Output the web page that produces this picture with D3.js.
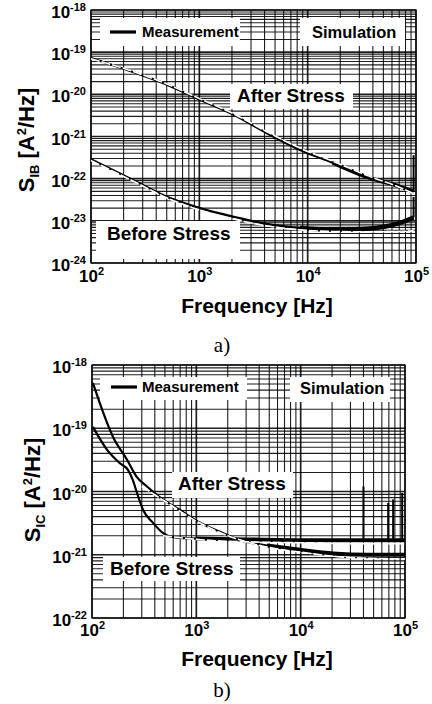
<!DOCTYPE html>
<html><head><meta charset="utf-8">
<script src="https://cdn.jsdelivr.net/npm/d3@7"></script>
<style>body{margin:0;background:#fff}svg{display:block}</style>
</head><body>
<svg id="c" width="432" height="704"></svg>
<script>
// ---------- DATA ----------
const xTickVals = [1e2, 1e3, 1e4, 1e5];
const yTickValsA = [1e-24, 1e-23, 1e-22, 1e-21, 1e-20, 1e-19, 1e-18];
const yTickValsB = [1e-22, 1e-21, 1e-20, 1e-19, 1e-18];

// Panel a) S_IB
const freqA = [100, 244, 503, 1013, 2050, 4200, 8500, 17000, 35000, 71000, 95000];
const measA_after  = [7.3e-20, 3.4e-20, 1.7e-20, 7.4e-21, 3.3e-21, 1.2e-21, 4.8e-22, 2.4e-22, 1.1e-22, 6.5e-23, 4.9e-23];
const simA_after   = [7.0e-20, 3.5e-20, 1.75e-20, 7.8e-21, 3.5e-21, 1.3e-21, 5.3e-22, 2.6e-22, 1.2e-22, 6.2e-23, 4.4e-23];
const measA_before = [2.9e-22, 9.3e-23, 3.7e-23, 2.0e-23, 1.26e-23, 8.5e-24, 6.8e-24, 6.2e-24, 6.5e-24, 8.9e-24, 1.2e-23];
const simA_before  = [2.7e-22, 8.8e-23, 3.5e-23, 1.8e-23, 1.1e-23, 7.6e-24, 6.1e-24, 5.6e-24, 5.5e-24, 5.6e-24, 5.8e-24];
const spikeA_freq = [95000, 95000];
const spikeA_base = [4.9e-23, 1.2e-23];
const spikeA_top  = [3.6e-22, 3.7e-23];

// Panel b) S_IC
const freqB1 = [102, 159, 216, 268, 337, 448, 698, 1086, 1687, 2620, 4750, 9850, 20400, 43000, 100000];
const measB1 = [5.2e-19, 7.3e-20, 3.2e-20, 1.7e-20, 1.2e-20, 8.1e-21, 5.1e-21, 3.2e-21, 2.3e-21, 1.7e-21, 1.4e-21, 1.2e-21, 1.05e-21, 1.0e-21, 1.0e-21];
const freqB2 = [102, 139, 185, 221, 247, 270, 309, 384, 480, 600, 1000, 3000, 10000, 30000, 100000];
const measB2 = [1.05e-19, 4.6e-20, 2.8e-20, 2.2e-20, 1.5e-20, 9.5e-21, 5.1e-21, 3.2e-21, 2.2e-21, 1.9e-21, 1.8e-21, 1.75e-21, 1.7e-21, 1.7e-21, 1.7e-21];
const simB1_freq = [300, 500, 1000, 2000, 5000, 10000, 30000, 100000];
const simB1 = [1.2e-20, 7.0e-21, 3.4e-21, 2.0e-21, 1.3e-21, 1.1e-21, 9.0e-22, 8.6e-22];
const simB2_freq = [480, 1000, 3000, 10000, 30000, 100000];
const simB2 = [2.0e-21, 1.75e-21, 1.6e-21, 1.55e-21, 1.5e-21, 1.5e-21];
const spikeB_freq = [40000, 69000, 77000, 94000];
const spikeB_base = [1.7e-21, 1.7e-21, 1.7e-21, 1.7e-21];
const spikeB_top  = [1.2e-20, 6.6e-21, 7.5e-21, 9.5e-21];

// ---------- DRAW ----------
const svg = d3.select("#c");
const SANS = "'Liberation Sans', Arial, sans-serif";

function supLabel(sel, d, mainSize, supSize) {
  const e = Math.round(Math.log10(d));
  sel.text("");
  sel.append("tspan").text("10");
  sel.append("tspan").attr("font-size", supSize).attr("dy", -mainSize * 0.42).text(e < 0 ? "-" + (-e) : e);
}

function panel(cfg) {
  const g = svg.append("g");
  const x = d3.scaleLog().domain([1e2, 1e5]).range([cfg.L, cfg.R]);
  const y = d3.scaleLog().domain(cfg.yDomain).range([cfg.B, cfg.T]);

  // grid
  const gx = x.ticks(), gy = y.ticks();
  const isMajor = d => Math.abs(Math.log10(d) - Math.round(Math.log10(d))) < 1e-9;
  const grid = g.append("g").attr("stroke", "#000");
  grid.selectAll("line.v").data(gx).join("line")
    .attr("x1", d => x(d)).attr("x2", d => x(d)).attr("y1", cfg.T).attr("y2", cfg.B)
    .attr("stroke-width", d => isMajor(d) ? 1.7 : 1.1)
    .attr("stroke-opacity", 0.88);
  grid.selectAll("line.h").data(gy).join("line")
    .attr("y1", d => y(d)).attr("y2", d => y(d)).attr("x1", cfg.L).attr("x2", cfg.R)
    .attr("stroke-width", d => isMajor(d) ? 1.7 : 1.1)
    .attr("stroke-opacity", 0.88);

  // white label boxes
  g.selectAll("rect.box").data(cfg.boxes).join("rect")
    .attr("x", d => d[0]).attr("y", d => d[1]).attr("width", d => d[2] - d[0]).attr("height", d => d[3] - d[1])
    .attr("fill", "#fff");

  // frame
  g.append("rect").attr("x", cfg.L).attr("y", cfg.T).attr("width", cfg.R - cfg.L).attr("height", cfg.B - cfg.T)
    .attr("fill", "none").attr("stroke", "#111").attr("stroke-width", 1.3);

  const line = d3.line().x(d => x(d[0])).y(d => y(d[1])).curve(d3.curveMonotoneX);

  // measurement
  cfg.meas.forEach(m => {
    const pts = m.f.map((f, i) => [f, m.v[i]]);
    g.append("path").attr("d", line(pts)).attr("fill", "none").attr("stroke", "#000").attr("stroke-width", 2.2);
    const tail = pts.filter(p => p[0] >= m.tail);
    g.append("path").attr("d", line(tail)).attr("fill", "none").attr("stroke", "#000").attr("stroke-width", m.tw);
  });
  // spikes
  g.selectAll("line.sp").data(cfg.spikes.f).join("line")
    .attr("x1", d => x(d)).attr("x2", d => x(d))
    .attr("y1", (d, i) => y(cfg.spikes.base[i])).attr("y2", (d, i) => y(cfg.spikes.top[i]))
    .attr("stroke", "#000").attr("stroke-width", 2);
  // simulation (white dashed)
  cfg.sims.forEach(s => {
    const pts = s.f.map((f, i) => [f, s.v[i]]);
    g.append("path").attr("d", line(pts)).attr("fill", "none").attr("stroke", "#fff")
      .attr("stroke-width", 1.6).attr("stroke-dasharray", "9,2");
  });

  // axes
  const ax = g.append("g").attr("transform", `translate(0,${cfg.B})`)
    .call(d3.axisBottom(x).tickValues(xTickVals).tickSize(0).tickPadding(0));
  ax.select(".domain").remove();
  ax.selectAll(".tick text").attr("y", cfg.xLabDy).attr("dy", 0)
    .attr("font-family", SANS).attr("font-weight", "bold").attr("font-size", 17).attr("fill", "#000")
    .each(function (d) { supLabel(d3.select(this), d, 17, 11); });

  const ay = g.append("g").attr("transform", `translate(${cfg.L},0)`)
    .call(d3.axisLeft(y).tickValues(cfg.yTicks).tickSize(0).tickPadding(5));
  ay.select(".domain").remove();
  ay.selectAll(".tick text").attr("dy", "0.45em")
    .attr("font-family", SANS).attr("font-weight", "bold").attr("font-size", 17).attr("fill", "#000")
    .each(function (d) { supLabel(d3.select(this), d, 17, 11); });

  // legend
  g.append("line").attr("x1", cfg.leg.x1).attr("x2", cfg.leg.x2).attr("y1", cfg.leg.y).attr("y2", cfg.leg.y)
    .attr("stroke", "#000").attr("stroke-width", 3.2);
  g.append("text").attr("x", cfg.leg.mx).attr("y", cfg.leg.my).attr("font-family", SANS).attr("font-weight", "bold")
    .attr("font-size", 15).text("Measurement");
  g.append("text").attr("x", cfg.leg.sx).attr("y", cfg.leg.sy).attr("font-family", SANS).attr("font-weight", "bold")
    .attr("font-size", 16.5).text("Simulation");

  // annotations
  cfg.notes.forEach(n => {
    g.append("text").attr("x", n[1]).attr("y", n[2]).attr("font-family", SANS).attr("font-weight", "bold")
      .attr("font-size", 19).text(n[0]);
  });

  // axis titles
  g.append("text").attr("x", 257).attr("y", cfg.xTitleY).attr("text-anchor", "middle")
    .attr("font-family", SANS).attr("font-weight", "bold").attr("font-size", 21).text("Frequency [Hz]");
  const yt = g.append("text").attr("transform", `translate(${cfg.yTitleX},${cfg.yTitleY}) rotate(-90)`)
    .attr("text-anchor", "middle").attr("font-family", SANS).attr("font-weight", "bold").attr("font-size", 22);
  yt.append("tspan").text("S");
  yt.append("tspan").attr("font-size", 13).attr("dy", 5).text(cfg.sub);
  yt.append("tspan").attr("dy", -5).text(" [A");
  yt.append("tspan").attr("font-size", 13).attr("dy", -8).text("2");
  yt.append("tspan").attr("dy", 8).text("/Hz]");

  // caption
  svg.append("text").attr("x", 222).attr("y", cfg.capY).attr("text-anchor", "middle")
    .attr("font-family", "'Liberation Serif', 'Times New Roman', serif").attr("font-size", 21).text(cfg.cap);
}

panel({
  L: 91, R: 416, T: 10, B: 263, yDomain: [1e-24, 1e-18], yTicks: yTickValsA,
  boxes: [[100, 18, 240, 46], [300, 18, 405, 46], [230, 84, 353, 109], [96, 221, 240, 259]],
  meas: [
    { f: freqA, v: measA_after, tail: 17000, tw: 4 },
    { f: freqA, v: measA_before, tail: 8500, tw: 4.5 }
  ],
  sims: [{ f: freqA, v: simA_after }, { f: freqA, v: simA_before }],
  spikes: { f: spikeA_freq, base: spikeA_base, top: spikeA_top },
  leg: { x1: 110, x2: 136, y: 32, mx: 142, my: 37, sx: 312, sy: 38 },
  notes: [["After Stress", 237, 102], ["Before Stress", 107, 240]],
  xLabDy: 19, xTitleY: 313, yTitleX: 34, yTitleY: 140, sub: "IB", cap: "a)", capY: 352
});

panel({
  L: 92, R: 405, T: 365, B: 618, yDomain: [1e-22, 1e-18], yTicks: yTickValsB,
  boxes: [[100, 377, 247, 400], [290, 377, 390, 402], [172, 472, 293, 498], [103, 557, 240, 581]],
  meas: [
    { f: freqB1, v: measB1, tail: 4750, tw: 4 },
    { f: freqB2, v: measB2, tail: 1000, tw: 4 }
  ],
  sims: [{ f: simB1_freq, v: simB1 }, { f: simB2_freq, v: simB2 }],
  spikes: { f: spikeB_freq, base: spikeB_base, top: spikeB_top },
  leg: { x1: 111, x2: 137, y: 387, mx: 142, my: 392, sx: 300, sy: 394 },
  notes: [["After Stress", 178, 490], ["Before Stress", 110, 575]],
  xLabDy: 18, xTitleY: 666, yTitleX: 40, yTitleY: 490, sub: "IC", cap: "b)", capY: 697
});
</script>
</body></html>
